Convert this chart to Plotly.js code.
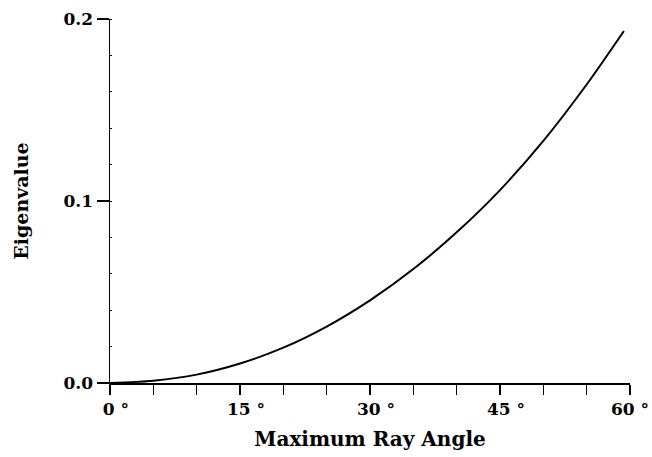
<!DOCTYPE html>
<html>
<head>
<meta charset="utf-8">
<script src="https://cdn.plot.ly/plotly-3.0.1.min.js"></script>
<style>html,body{margin:0;padding:0;background:#fff;}#chart{width:652px;height:457px;}</style>
</head>
<body>
<div id="chart"></div>
<script>
const angles = [0, 5, 10, 15, 20, 25, 30, 35, 40, 45, 50, 55, 59.3];
const eigenvalues = [0, 0.0013, 0.0046, 0.0107, 0.0194, 0.031, 0.0454, 0.0626, 0.0828, 0.106, 0.133, 0.164, 0.1934];
const xTickVals = [0, 5, 10, 15, 20, 25, 30, 35, 40, 45, 50, 55, 60];
const xTickText = ["\u00a0\u00a00 °", "", "", "\u00a0\u00a015 °", "", "", "\u00a0\u00a030 °", "", "", "\u00a0\u00a045 °", "", "", "60 °"];
const yTickVals = [0, 0.1, 0.2];
const yTickText = ["0.0", "0.1", "0.2"];

const fam = "DejaVu Serif";

Plotly.newPlot("chart", [{
  x: angles, y: eigenvalues, type: "scatter", mode: "lines",
  line: {color: "#000", width: 2, shape: "spline", smoothing: 0.8}
}], {
  width: 652, height: 457,
  margin: {l: 110, r: 22, t: 19, b: 74},
  paper_bgcolor: "#fff", plot_bgcolor: "#fff",
  showlegend: false,
  font: {family: fam, size: 18, color: "#000"},
  xaxis: {
    range: [0, 60], tickvals: xTickVals, ticktext: xTickText.map(t => t ? "<b>" + t + "</b>" : t),
    ticks: "outside", ticklen: 10, tickwidth: 1.5, tickcolor: "#000",
    ticklabeloverflow: "allow",
    showline: true, linecolor: "#000", linewidth: 1.5,
    showgrid: false, zeroline: false,
    tickfont: {family: fam, size: 17, color: "#000"},
    title: {text: "<b>Maximum Ray Angle</b>", font: {family: fam, size: 20, color: "#000"}, standoff: 14}
  },
  yaxis: {
    range: [0, 0.2], tickvals: yTickVals, ticktext: yTickText.map(t => "<b>" + t + "</b>"),
    ticks: "outside", ticklen: 12, tickwidth: 1.5, tickcolor: "#000",
    showline: true, linecolor: "#000", linewidth: 1.5,
    showgrid: false, zeroline: false,
    minor: {dtick: 0.02, ticks: "inside", ticklen: 2, tickcolor: "#000", tickwidth: 1},
    tickfont: {family: fam, size: 17, color: "#000"},
    title: {text: "<b>Eigenvalue</b>", font: {family: fam, size: 19, color: "#000"}, standoff: 30}
  }
}, {displayModeBar: false, staticPlot: true});
</script>
</body>
</html>
